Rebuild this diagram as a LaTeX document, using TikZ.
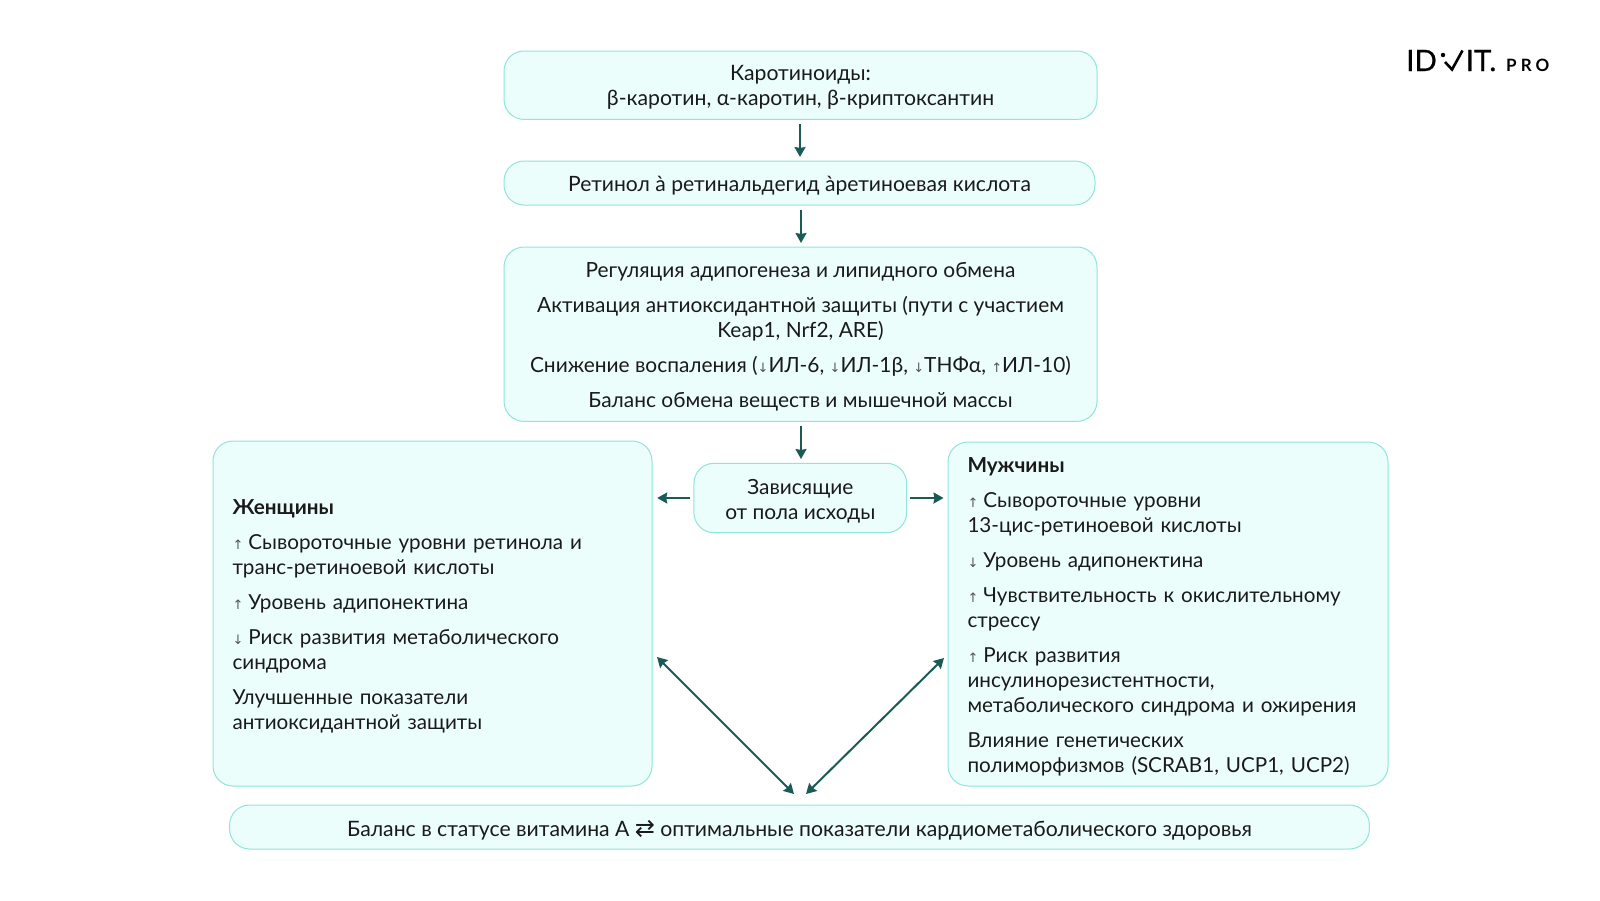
\documentclass[tikz,border=0pt]{standalone}
\usepackage{fontspec}
\setmainfont{Lato}
\newfontfamily\symf{DejaVu Sans}
\usetikzlibrary{arrows.meta}
\definecolor{boxfill}{HTML}{ECFEFC}
\definecolor{boxline}{HTML}{8FE4DB}
\definecolor{arrowc}{HTML}{1B5B55}
\definecolor{textc}{HTML}{1A1A1A}
\definecolor{symc}{HTML}{555555}
\newcommand{\up}{{\symf\color{symc}\fontsize{13}{25}\selectfont ↑}}
\newcommand{\dn}{{\symf\color{symc}\fontsize{13}{25}\selectfont ↓}}
\newcommand{\gp}{\hspace{5pt}}
\newcommand{\para}{\\[10pt]}
\tikzset{
  box/.style={draw=boxline,fill=boxfill,line width=1pt,rounded corners=20pt,inner sep=0pt},
  txt/.style={inner sep=0pt,text=textc,font=\fontsize{#1}{25}\selectfont,align=center},
  txt/.default=20.9,
  sidetxt/.style={txt=20.65,align=left,text width=#1},
  conn/.style={draw=arrowc,line width=2pt,-{Stealth[length=10pt,width=11pt,inset=1pt]}},
  both/.style={draw=arrowc,line width=2pt,{Stealth[length=10pt,width=11pt,inset=1pt]}-{Stealth[length=10pt,width=11pt,inset=1pt]}},
  logo/.style={inner sep=0pt,anchor=base west,text=black},
}
\begin{document}
\begin{tikzpicture}[x=1pt,y=-1pt]
\useasboundingbox (0,0) rectangle (1600,900);
\node[box,minimum width=593pt,minimum height=68.4pt] (b1) at (800.5,85.2) {};
\node[box,minimum width=591pt,minimum height=44pt] (b2) at (799.5,183) {};
\node[box,minimum width=593pt,minimum height=174.4pt] (b3) at (800.5,334.2) {};
\node[box,minimum width=212.7pt,minimum height=69.4pt] (c) at (800.3,498) {};
\node[box,minimum width=439pt,minimum height=345pt] (l) at (432.5,613.5) {};
\node[box,minimum width=440pt,minimum height=344pt] (r) at (1168,614) {};
\node[box,minimum width=1139.8pt,minimum height=44pt] (bot) at (799.5,827) {};

\node[txt=21.2] (b1t) at ([yshift=-2.5pt]b1.center)
  {Каротиноиды:\\β-каротин, α-каротин, β-криптоксантин};
\node[txt=21.1] (b2t) at ([yshift=-3pt]b2.center)
  {Ретинол à ретинальдегид àретиноевая кислота};
\node[txt] (b3t) at ([yshift=-3pt]b3.center)
  {Регуляция адипогенеза и липидного обмена\para
   Активация антиоксидантной защиты (пути с участием\\Keap1, Nrf2, ARE)\para
   Снижение воспаления (\dn ИЛ-6, \dn ИЛ-1β, \dn ТНФα, \up ИЛ-10)\para
   Баланс обмена веществ и мышечной массы};
\node[txt] (ct) at ([yshift=-3pt]c.center) {Зависящие\\от пола исходы};
\node[sidetxt=400pt] (lt) at ([yshift=-3pt]l.center)
  {\textbf{Женщины}\para
   \up\gp Сывороточные уровни ретинола и\\транс-ретиноевой кислоты\para
   \up\gp Уровень адипонектина\para
   \dn\gp Риск развития метаболического\\синдрома\para
   Улучшенные показатели\\антиоксидантной защиты};
\node[sidetxt=401pt] (rt) at ([yshift=-3pt]r.center)
  {\textbf{Мужчины}\para
   \up\gp Сывороточные уровни\\13-цис-ретиноевой кислоты\para
   \dn\gp Уровень адипонектина\para
   \up\gp Чувствительность к окислительному\\стрессу\para
   \up\gp Риск развития\\инсулинорезистентности,\\метаболического синдрома и ожирения\para
   Влияние генетических\\полиморфизмов (SCRAB1, UCP1, UCP2)};
\node[txt=21.2] (bott) at ([yshift=-3pt]bot.center)
  {Баланс в статусе витамина А {\symf\fontsize{24}{25}\selectfont ⇄} оптимальные показатели кардиометаболического здоровья};

\coordinate (a1) at (800,123.5);
\coordinate (a2) at (800,157);
\coordinate (a3) at (801,209.5);
\coordinate (a4) at (801,243);
\coordinate (a5) at (801,425.5);
\coordinate (a6) at (801,459);
\coordinate (ltop) at (657,657);
\coordinate (lbot) at (794,794);
\coordinate (rtop) at (944,658);
\coordinate (rbot) at (806,794);
\draw[conn] (a1) -- (a2);
\draw[conn] (a3) -- (a4);
\draw[conn] (a5) -- (a6);
\draw[conn,shorten <=3pt,shorten >=4.7pt] (c.west) -- (c.west -| l.east);
\draw[conn,shorten <=3pt,shorten >=4pt] (c.east) -- (c.east -| r.west);
\draw[both] (ltop) -- (lbot);
\draw[both] (rtop) -- (rbot);

% logo
\node[logo,font=\fontsize{29.5}{29}\selectfont] (id) at (1406,71) {\addfontfeature{FakeBold=0.6}ID};
\fill[black] (1443,55) circle (2.2pt);
\coordinate (ck1) at (1445,62);
\coordinate (ck2) at (1452,69.5);
\coordinate (ck3) at (1462.5,50.5);
\draw[black,line width=2.6pt] (ck1) -- (ck2) -- (ck3);
\node[logo,font=\fontsize{29.5}{29}\selectfont] (it) at (1465.5,71) {\addfontfeature{FakeBold=0.6}IT.};
\node[logo,font=\bfseries\fontsize{17}{16}\selectfont] (pro) at (1506,71) {\addfontfeature{LetterSpace=24}PRO};
\end{tikzpicture}
\end{document}
